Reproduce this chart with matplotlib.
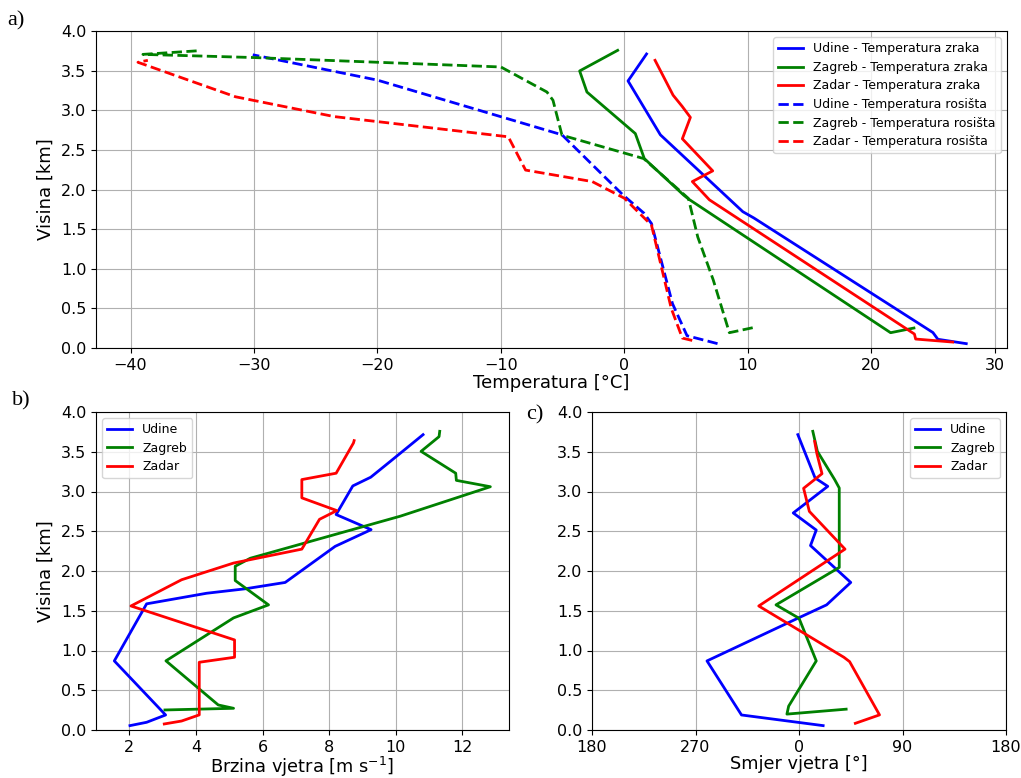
import matplotlib
matplotlib.use("Agg")
import matplotlib.pyplot as plt
import numpy as np

# a) temperature profiles (degC, km)
udine_t = [27.7, 25.4, 25.0, 10.5, 9.6, 2.92, 0.3, 1.8]
udine_t_h = [0.055, 0.11, 0.195, 1.64, 1.72, 2.69, 3.37, 3.71]
zagreb_t = [23.46, 21.57, 5.2, 4.8, 1.62, 0.89, -3.03, -3.62, -0.54]
zagreb_t_h = [0.252, 0.193, 1.88, 1.93, 2.39, 2.706, 3.23, 3.496, 3.756]
zadar_t = [26.6, 23.6, 23.5, 6.89, 5.51, 7.16, 4.70, 5.35, 4.68, 3.95, 2.49]
zadar_t_h = [0.075, 0.113, 0.176, 1.87, 2.10, 2.235, 2.64, 2.91, 3.05, 3.19, 3.63]

udine_td = [7.55, 5.08, 3.9, 2.2, 1.6, -0.1, -5.05, -20.0, -30.1]
udine_td_h = [0.055, 0.155, 0.56, 1.57, 1.70, 1.93, 2.69, 3.38, 3.70]
zagreb_td = [10.4, 8.51, 7.2, 5.95, 5.19, 4.6, 1.57, -5.05, -5.78, -6.27, -10.0, -30.0, -39.0, -34.6]
zagreb_td_h = [0.256, 0.193, 0.86, 1.40, 1.887, 1.97, 2.39, 2.685, 3.126, 3.23, 3.546, 3.665, 3.705, 3.75]
zadar_td = [5.5, 4.7, 3.8, 2.2, 0.0, -2.6, -8.0, -9.4, -23.5, -31.5, -39.4, -38.6]
zadar_td_h = [0.095, 0.125, 0.5, 1.55, 1.89, 2.1, 2.245, 2.665, 2.92, 3.17, 3.605, 3.63]

# b) wind speed (m/s, km)
udine_ws = [2.02, 2.52, 3.09, 1.55, 2.52, 4.32, 5.48, 6.68, 8.18, 9.26, 8.21, 8.71, 9.25, 9.84, 10.82]
udine_ws_h = [0.055, 0.097, 0.189, 0.869, 1.587, 1.72, 1.776, 1.856, 2.31, 2.52, 2.71, 3.07, 3.18, 3.38, 3.715]
zagreb_ws = [3.07, 5.13, 4.67, 3.1, 5.13, 6.18, 5.18, 5.18, 5.63, 10.14, 12.84, 11.82, 11.8, 10.76, 11.3, 11.32]
zagreb_ws_h = [0.252, 0.273, 0.315, 0.87, 1.41, 1.574, 1.88, 2.06, 2.16, 2.69, 3.06, 3.14, 3.23, 3.505, 3.69, 3.757]
zadar_ws = [3.05, 3.57, 4.1, 4.1, 5.16, 5.16, 2.05, 3.57, 5.13, 7.18, 7.71, 8.23, 7.18, 7.18, 8.21, 8.73, 8.75]
zadar_ws_h = [0.076, 0.113, 0.19, 0.852, 0.915, 1.133, 1.56, 1.89, 2.10, 2.275, 2.65, 2.76, 2.92, 3.15, 3.23, 3.61, 3.64]

# c) wind direction (deg, km)
udine_wd = [21, 310, 280, 359, 24, 45, 10, 15, 355, 25, 14, 359]
udine_wd_h = [0.055, 0.189, 0.869, 1.406, 1.574, 1.856, 2.32, 2.515, 2.73, 3.065, 3.17, 3.715]
zagreb_wd = [41, 349.5, 351, 15, 0, 340, 35, 35, 31, 16, 12]
zagreb_wd_h = [0.262, 0.2, 0.3, 0.869, 1.406, 1.574, 2.045, 3.044, 3.15, 3.505, 3.757]
zadar_wd = [49, 70, 44, 39, 325, 40, 9, 4, 20, 15.5, 13.6]
zadar_wd_h = [0.084, 0.19, 0.86, 0.915, 1.56, 2.275, 2.75, 3.04, 3.224, 3.48, 3.63]

def shift(d):
    return ((np.asarray(d) + 180) % 360) - 180

W, H = 1021, 778
fig = plt.figure(figsize=(W / 100, H / 100), dpi=100)

def box(l, r, t, b):
    return [l / W, 1 - b / H, (r - l) / W, (b - t) / H]

ax1 = fig.add_axes(box(96, 1007, 31, 348))
ax2 = fig.add_axes(box(96, 509, 412, 730))
ax3 = fig.add_axes(box(592, 1006, 412, 730))

lw = 2
ax1.plot(udine_t, udine_t_h, color='blue', lw=lw, label='Udine - Temperatura zraka')
ax1.plot(zagreb_t, zagreb_t_h, color='green', lw=lw, label='Zagreb - Temperatura zraka')
ax1.plot(zadar_t, zadar_t_h, color='red', lw=lw, label='Zadar - Temperatura zraka')
ax1.plot(udine_td, udine_td_h, '--', color='blue', lw=lw, label='Udine - Temperatura rosišta')
ax1.plot(zagreb_td, zagreb_td_h, '--', color='green', lw=lw, label='Zagreb - Temperatura rosišta')
ax1.plot(zadar_td, zadar_td_h, '--', color='red', lw=lw, label='Zadar - Temperatura rosišta')
ax1.set_xlim(-42.8, 31.0)
ax1.set_xlabel('Temperatura [°C]', fontsize=13, labelpad=1)

ax2.plot(udine_ws, udine_ws_h, color='blue', lw=lw, label='Udine')
ax2.plot(zagreb_ws, zagreb_ws_h, color='green', lw=lw, label='Zagreb')
ax2.plot(zadar_ws, zadar_ws_h, color='red', lw=lw, label='Zadar')
ax2.set_xlim(1.0, 13.4)
ax2.set_xticks([2, 4, 6, 8, 10, 12])
ax2.set_xlabel('Brzina vjetra [m s$^{-1}$]', fontsize=12.8, labelpad=0)

ax3.plot(shift(udine_wd), udine_wd_h, color='blue', lw=lw, label='Udine')
ax3.plot(shift(zagreb_wd), zagreb_wd_h, color='green', lw=lw, label='Zagreb')
ax3.plot(shift(zadar_wd), zadar_wd_h, color='red', lw=lw, label='Zadar')
ax3.set_xlim(-180, 180)
ax3.set_xticks([-180, -90, 0, 90, 180])
ax3.set_xticklabels(['180', '270', '0', '90', '180'])
ax3.set_xlabel('Smjer vjetra [°]', fontsize=12.8, labelpad=0)

for ax in (ax1, ax2, ax3):
    ax.set_ylim(0, 4)
    ax.set_yticks(np.arange(0, 4.01, 0.5))
    ax.grid(True)
    ax.tick_params(labelsize=11.5)
ax1.set_ylabel('Visina [km]', fontsize=13)
ax2.set_ylabel('Visina [km]', fontsize=13)

ax1.legend(loc='upper right', fontsize=9, labelspacing=0.45)
ax2.legend(loc='upper left', fontsize=9, labelspacing=0.45)
ax3.legend(loc='upper right', fontsize=9, labelspacing=0.45)

fig.text(0.007, 0.973, 'a)', fontsize=16, family='Liberation Serif', va='center')
fig.text(0.012, 0.485, 'b)', fontsize=16, family='Liberation Serif', va='center')
fig.text(0.515, 0.467, 'c)', fontsize=16, family='Liberation Serif', va='center')

fig.savefig('out.png', dpi=100)
